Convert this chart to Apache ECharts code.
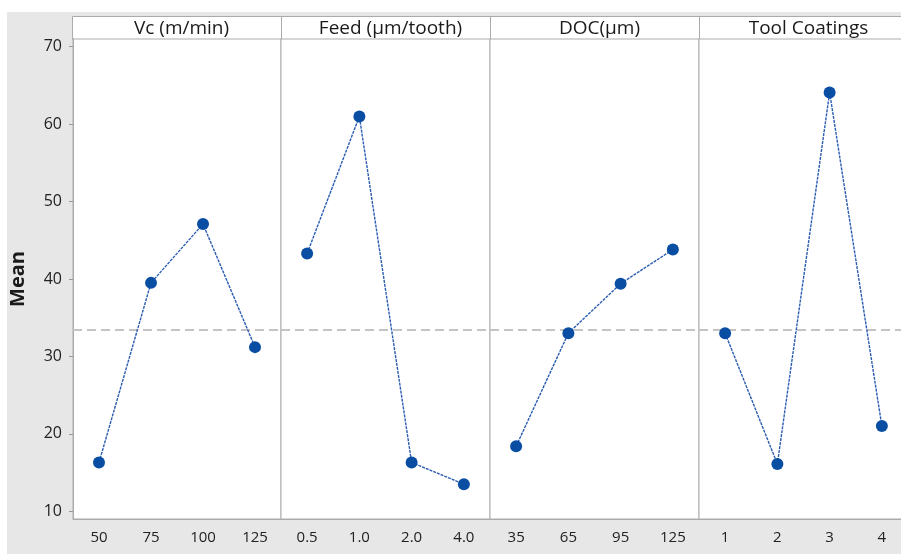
<!DOCTYPE html>
<html>
<head>
<meta charset="utf-8">
<script src="https://cdn.jsdelivr.net/npm/echarts@6/dist/echarts.min.js"></script>
<style>
  body{margin:0;background:#fff;overflow:hidden;}
  #main{position:absolute;left:7px;top:12px;width:901px;height:542px;}
</style>
</head>
<body>
<div id="main"></div>
<script>
// factor titles and levels
var factors = ['Vc (m/min)', 'Feed (µm/tooth)', 'DOC(µm)', 'Tool Coatings'];
var vcLevels = ['50', '75', '100', '125'];
var feedLevels = ['0.5', '1.0', '2.0', '4.0'];
var docLevels = ['35', '65', '95', '125'];
var coatLevels = ['1', '2', '3', '4'];
// means
var vcMeans = [16.3, 39.5, 47.1, 31.2];
var feedMeans = [43.3, 61.0, 16.3, 13.5];
var docMeans = [18.4, 33.0, 39.4, 43.8];
var coatMeans = [33.0, 16.1, 64.1, 21.0];
var grandMean = 33.5;
var yTicks = [10, 20, 30, 40, 50, 60, 70];

var levels = [vcLevels, feedLevels, docLevels, coatLevels];
var means = [vcMeans, feedMeans, docMeans, coatMeans];

var chart = echarts.init(document.getElementById('main'));
var font = '"Open Sans", "Noto Sans", sans-serif';
var panelLeft = 65, panelW = 209, plotTop = 27, plotH = 480;

var grids = [], xAxes = [], yAxes = [], series = [], titles = [];
for (var i = 0; i < 4; i++) {
  grids.push({
    left: panelLeft + i * panelW, top: plotTop, width: panelW, height: plotH,
    show: true, backgroundColor: '#fff', borderColor: '#ababab', borderWidth: 1
  });
  xAxes.push({
    gridIndex: i, type: 'category', data: levels[i], boundaryGap: true,
    axisLine: {lineStyle: {color: '#ababab'}},
    axisTick: {alignWithLabel: true, length: 4, lineStyle: {color: '#999'}},
    axisLabel: {color: '#222', fontSize: 15, margin: 11, fontFamily: font}
  });
  yAxes.push({
    gridIndex: i, type: 'value', min: 9, max: 71,
    name: i === 0 ? 'Mean' : '', nameLocation: 'middle', nameGap: 45,
    nameTextStyle: {fontSize: 20, fontWeight: 'bold', color: '#1a1a1a', fontFamily: font},
    splitLine: {show: false},
    axisLine: {show: i === 0, lineStyle: {color: '#ababab'}},
    axisTick: {show: i === 0, length: 4, customValues: yTicks, lineStyle: {color: '#999'}},
    axisLabel: {show: i === 0, customValues: yTicks, color: '#222', fontSize: 16, margin: 11, fontFamily: font}
  });
  // grand mean reference line, kept under the data
  series.push({
    type: 'line', xAxisIndex: i, yAxisIndex: i, data: [], z: 1,
    markLine: {
      silent: true, symbol: 'none', label: {show: false}, z: 1,
      lineStyle: {color: '#c4c4c4', type: [9, 5], width: 2},
      data: [{yAxis: grandMean}]
    }
  });
  series.push({
    type: 'line', xAxisIndex: i, yAxisIndex: i, data: means[i], z: 3,
    symbol: 'circle', symbolSize: 12,
    itemStyle: {color: '#0a4ea3'},
    lineStyle: {color: '#2a5cb0', width: 1.4, type: [3, 1]}
  });
  titles.push({
    text: factors[i], left: panelLeft + i * panelW + panelW / 2, top: 2,
    textAlign: 'center',
    textStyle: {fontSize: 19, fontWeight: 'normal', color: '#1a1a1a', fontFamily: font}
  });
}

chart.setOption({
  backgroundColor: '#e7e7e7',
  animation: false,
  title: titles,
  graphic: [{
    type: 'rect', left: panelLeft, top: 4, z: -1,
    shape: {width: panelW * 4, height: 23},
    style: {fill: '#fff', stroke: '#ababab', lineWidth: 1}
  }].concat([1, 2, 3].map(function (k) {
    return {
      type: 'line', z: 10,
      shape: {x1: panelLeft + k * panelW + 0.5, y1: 4, x2: panelLeft + k * panelW + 0.5, y2: plotTop},
      style: {stroke: '#ababab', lineWidth: 1}
    };
  })),
  grid: grids,
  xAxis: xAxes,
  yAxis: yAxes,
  series: series
});
</script>
</body>
</html>
